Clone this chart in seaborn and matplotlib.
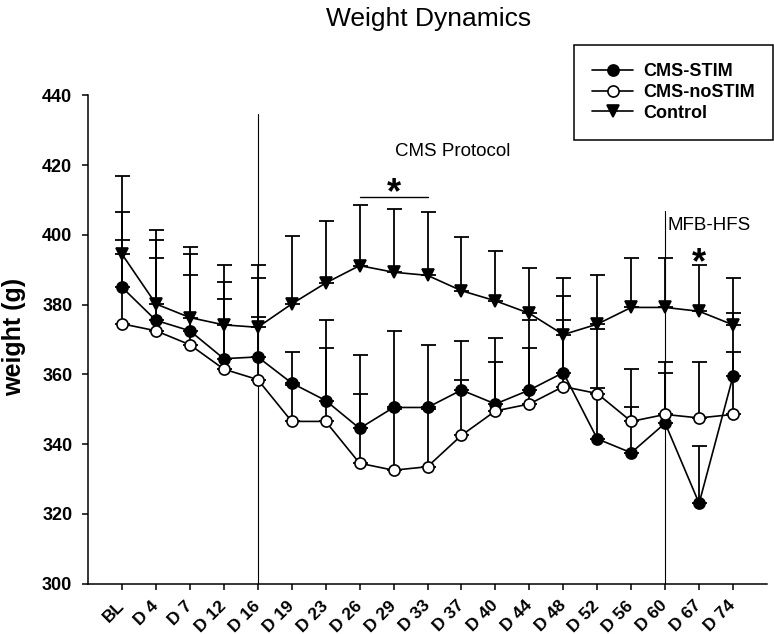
import numpy as np
import pandas as pd
import matplotlib
matplotlib.use("Agg")
import matplotlib.pyplot as plt
import seaborn as sns
from matplotlib.lines import Line2D

# ---- data ----
categories = ["BL", "D 4", "D 7", "D 12", "D 16", "D 19", "D 23", "D 26", "D 29",
              "D 33", "D 37", "D 40", "D 44", "D 48", "D 52", "D 56", "D 60", "D 67", "D 74"]
stim = [385, 375.5, 372.5, 364.5, 365, 357.5, 352.5, 344.5, 350.5, 350.5,
        355.5, 351.5, 355.5, 360.5, 341.5, 337.5, 346, 323, 359.5]
stim_top = [406.5, 398.5, 394.5, 386.5, 387.5, 366.5, 375.5, 365.5, 372.5, 368.5,
            369.5, 370.5, 375.5, 382.5, 373, 361.5, 363.5, 339.5, 377.5]
nostim = [374.5, 372.5, 368.5, 361.5, 358.5, 346.5, 346.5, 334.5, 332.5, 333.5,
          342.5, 349.5, 351.5, 356.5, 354.5, 346.5, 348.5, 347.5, 348.5]
nostim_top = [398.5, 393.5, 388.5, 381.5, 376.5, 357, 367.5, 354.5, 350, 350,
              358.5, 363.5, 367.5, 375.5, 356, 350.5, 360.5, 363.5, 366.5]
control = [394.5, 380.2, 376.3, 374.2, 373.5, 380.2, 386.2, 391.2, 389.3, 388.4,
           384, 381.1, 377.5, 371.4, 374.4, 379.2, 379.2, 378.1, 374.2]
control_top = [417, 401.4, 396.5, 391.5, 391.5, 399.6, 404, 408.6, 407.5, 406.5,
               399.5, 395.5, 390.5, 387.5, 388.5, 393.4, 393.4, 391.4, 387.5]
series_names = ["CMS-STIM", "CMS-noSTIM", "Control"]
yticks = [300, 320, 340, 360, 380, 400, 420, 440]

# ---- style ----
sns.set_style("ticks")
plt.rcParams["font.family"] = ["Liberation Sans", "DejaVu Sans"]
plt.rcParams["axes.edgecolor"] = "black"
plt.rcParams["axes.linewidth"] = 1.1
plt.rcParams["text.color"] = "black"
plt.rcParams["xtick.color"] = "black"
plt.rcParams["ytick.color"] = "black"
plt.rcParams["axes.labelcolor"] = "black"

W, H = 774, 634
fig = plt.figure(figsize=(W / 100, H / 100), dpi=100)
ax = fig.add_axes([88 / W, 1 - 583.5 / H, (767 - 88) / W, (583.5 - 95.5) / H])

x = np.arange(len(categories))
specs = [
    (stim, stim_top, "black", "o"),
    (nostim, nostim_top, "white", "o"),
    (control, control_top, "black", "v"),
]

handles = []
for (vals, tops, fc, mk), name in zip(specs, series_names):
    vals = np.asarray(vals, float)
    tops = np.asarray(tops, float)
    ax.errorbar(x, vals, yerr=[np.zeros_like(vals), tops - vals], fmt="none",
                ecolor="black", elinewidth=1.3, capsize=5.4, capthick=1.3, zorder=2)
    df = pd.DataFrame({"x": x, "y": vals})
    sns.lineplot(data=df, x="x", y="y", ax=ax, color="black", marker=mk,
                 markersize=8, markerfacecolor=fc, markeredgecolor="black",
                 markeredgewidth=1.2, linewidth=1.2, zorder=3, legend=False)
    handles.append(Line2D([], [], color="black", marker=mk, markersize=8,
                          markerfacecolor=fc, markeredgecolor="black",
                          markeredgewidth=1.2, linewidth=1.2))

# protocol markers
ax.plot([4, 4], [300, 434.8], color="black", lw=0.8, zorder=1)
ax.plot([16, 16], [300, 407], color="black", lw=0.8, zorder=1)
ax.text(9.73, 423.8, "CMS Protocol", ha="center", va="center", fontsize=13.5)
ax.text(16.08, 402.6, "MFB-HFS", ha="left", va="center", fontsize=13.5)

# significance
ax.plot([7, 9], [411, 411], color="black", lw=1.0)
ax.text(8, 409.0, "*", ha="center", va="baseline", fontsize=26, fontweight="bold")
ax.text(17, 388.9, "*", ha="center", va="baseline", fontsize=26, fontweight="bold")

ax.set_xlim(-1, 19)
ax.set_ylim(300, 440)
ax.set_xticks(x)
ax.set_xticklabels(categories, rotation=45, ha="right", va="center",
                   rotation_mode="anchor", fontsize=12.5, fontweight="bold")
ax.set_yticks(yticks)
ax.set_yticklabels([str(v) for v in yticks], fontsize=13, fontweight="bold")
ax.tick_params(axis="both", direction="out", length=4.3, width=1.1, color="black")
ax.tick_params(axis="x", pad=10)
ax.tick_params(axis="y", pad=7)
ax.set_xlabel("")
ax.set_ylabel("")
sns.despine(ax=ax)

fig.text(14 / W, 1 - 337 / H, "weight (g)", rotation=90, ha="center", va="center",
         fontsize=18, fontweight="bold")
fig.text(429 / W, 1 - 19 / H, "Weight Dynamics", ha="center", va="center", fontsize=19)

leg = fig.legend(handles, series_names, loc="upper right",
                 bbox_to_anchor=(773 / W, 1 - 45 / H),
                 prop={"size": 13, "weight": "bold"}, frameon=True, fancybox=False,
                 edgecolor="black", framealpha=1, handlelength=2.3,
                 handletextpad=0.55, labelspacing=0.21, borderpad=1.0,
                 borderaxespad=0)
leg.get_frame().set_linewidth(1.1)

fig.savefig("out.png", dpi=100)
